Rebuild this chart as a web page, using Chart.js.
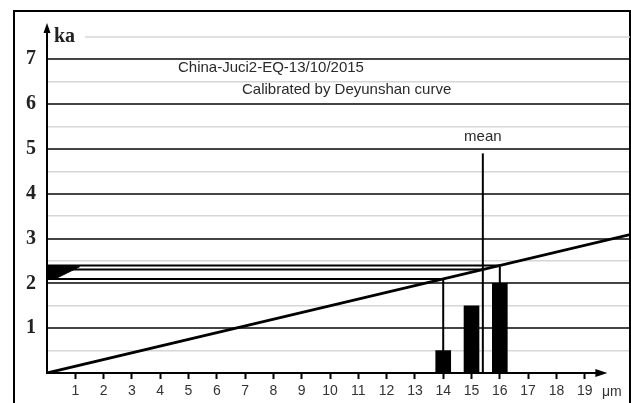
<!DOCTYPE html>
<html>
<head>
<meta charset="utf-8">
<script src="https://cdn.jsdelivr.net/npm/chart.js@4.4.1/dist/chart.umd.min.js"></script>
<style>
  html, body { margin: 0; padding: 0; background: #fff; }
  #wrap { width: 631px; height: 403px; }
</style>
</head>
<body>
<div id="wrap"><canvas id="chart" width="631" height="403"></canvas></div>
<script>
// grain size histogram (μm) and the bar heights on the ka axis
const grainSizes = [14, 15, 16];
const grainHeights = [0.5, 1.5, 2];

// Deyunshan calibration line, size (μm) vs age (ka)
const calibSizes = [0, 20.6];
const calibAges = [0, 3.09];

// read-off ages: smallest grain, mean, largest grain
const readSizes = [14, 15.4, 16];
const readAges = [2.1, 2.31, 2.4];

// mean marker
const meanSize = 15.4;
const meanTop = 4.9;

// black wedge on the age axis
const wedgeSizes = [0, 1.15, 0.35, 0, 0];
const wedgeAges = [2.4, 2.37, 2.12, 2.12, 2.4];

const xTickLabels = [1, 2, 3, 4, 5, 6, 7, 8, 9, 10, 11, 12, 13, 14, 15, 16, 17, 18, 19];
const yTickLabels = [1, 2, 3, 4, 5, 6, 7];
const titleLines = ['China-Juci2-EQ-13/10/2015', 'Calibrated by Deyunshan curve'];

const SANS = '"Liberation Sans", Arial, sans-serif';
const SERIF = '"Liberation Serif", "Times New Roman", serif';

const pts = (xs, ys) => xs.map((x, i) => ({ x: x, y: ys[i] }));

const lineSet = (data, width) => ({
  type: 'scatter',
  data: data,
  showLine: true,
  borderColor: '#000',
  borderWidth: width,
  pointRadius: 0,
  fill: false
});

const datasets = [
  {
    type: 'bar',
    data: pts(grainSizes, grainHeights),
    backgroundColor: '#000',
    barThickness: 15
  },
  lineSet(pts(calibSizes, calibAges), 2.8),
  lineSet([{ x: meanSize, y: 0 }, { x: meanSize, y: meanTop }], 2)
];

readSizes.forEach((s, i) => {
  const path = [{ x: 0, y: readAges[i] }, { x: s, y: readAges[i] }];
  if (s !== meanSize) path.push({ x: s, y: 0 });
  datasets.push(lineSet(path, 2));
});

datasets.push({
  type: 'scatter',
  data: pts(wedgeSizes, wedgeAges),
  showLine: true,
  borderColor: '#000',
  borderWidth: 1,
  backgroundColor: '#000',
  pointRadius: 0,
  fill: 'shape'
});

const decorations = {
  id: 'decorations',
  afterDatasetsDraw(chart) {
    const { ctx, chartArea, scales } = chart;
    const xs = scales.x, ys = scales.y;
    const x0 = xs.getPixelForValue(0);
    const y0 = ys.getPixelForValue(0);
    ctx.save();

    // outer frame
    ctx.strokeStyle = '#000';
    ctx.lineWidth = 2;
    ctx.strokeRect(14, 11, 616, 420);

    // top light grid line, starting after the unit label
    ctx.strokeStyle = '#d6d6d6';
    ctx.lineWidth = 1.5;
    const y75 = ys.getPixelForValue(7.5);
    ctx.beginPath();
    ctx.moveTo(85, y75);
    ctx.lineTo(chartArea.right, y75);
    ctx.stroke();

    // axes with arrows
    ctx.strokeStyle = '#000';
    ctx.fillStyle = '#000';
    ctx.lineWidth = 2;
    const yTop = chartArea.top;
    ctx.beginPath();
    ctx.moveTo(x0, y0 + 1);
    ctx.lineTo(x0, yTop + 4);
    ctx.stroke();
    ctx.beginPath();
    ctx.moveTo(x0, yTop);
    ctx.lineTo(x0 - 3.5, yTop + 10);
    ctx.lineTo(x0 + 3.5, yTop + 10);
    ctx.closePath();
    ctx.fill();

    const xEnd = xs.getPixelForValue(19.8);
    ctx.beginPath();
    ctx.moveTo(x0, y0);
    ctx.lineTo(xEnd - 6, y0);
    ctx.stroke();
    ctx.beginPath();
    ctx.moveTo(xEnd, y0);
    ctx.lineTo(xEnd - 12, y0 - 4);
    ctx.lineTo(xEnd - 12, y0 + 4);
    ctx.closePath();
    ctx.fill();

    // unit labels
    ctx.fillStyle = '#222';
    ctx.font = 'bold 20px ' + SERIF;
    ctx.textAlign = 'left';
    ctx.textBaseline = 'alphabetic';
    ctx.fillText('ka', 54, 42);

    ctx.font = '14px ' + SANS;
    ctx.fillStyle = '#333';
    ctx.textBaseline = 'middle';
    ctx.fillText('μm', 602, 392);

    // titles
    ctx.font = '15px ' + SANS;
    ctx.fillStyle = '#2a2a2a';
    ctx.fillText(titleLines[0], 178, 68);
    ctx.fillText(titleLines[1], 242, 90);

    // mean label
    ctx.textAlign = 'center';
    ctx.fillText('mean', xs.getPixelForValue(meanSize), 137);

    ctx.restore();
  }
};

new Chart(document.getElementById('chart'), {
  type: 'scatter',
  data: { datasets: datasets },
  options: {
    responsive: false,
    animation: false,
    layout: { padding: { top: 19, right: 1, left: 0, bottom: 0 } },
    plugins: { legend: { display: false }, tooltip: { enabled: false } },
    scales: {
      x: {
        type: 'linear',
        min: 0,
        max: 20.6,
        offset: false,
        afterFit: (scale) => { scale.height = 30; },
        border: { display: false },
        grid: {
          offset: false,
          drawOnChartArea: false,
          drawTicks: true,
          tickLength: 6,
          tickColor: '#000',
          tickWidth: 2
        },
        ticks: {
          stepSize: 1,
          autoSkip: false,
          maxRotation: 0,
          padding: 4,
          color: '#333',
          font: { family: SANS, size: 14 },
          callback: (v) => xTickLabels.includes(v) ? String(v) : null
        }
      },
      y: {
        type: 'linear',
        min: 0,
        max: 7.81,
        afterFit: (scale) => { scale.width = 47; },
        border: { display: false },
        grid: {
          drawTicks: false,
          lineWidth: (c) => Number.isInteger(c.tick.value) ? 2 : 1.5,
          color: (c) => {
            const v = c.tick.value;
            if (v >= 7.5) return 'rgba(0,0,0,0)';
            return Number.isInteger(v) ? '#444' : '#d6d6d6';
          }
        },
        ticks: {
          stepSize: 0.5,
          autoSkip: false,
          padding: 11,
          color: '#222',
          font: { family: SERIF, size: 20, weight: 'bold' },
          callback: (v) => {
            if (v > 7.5 || v === 0) return null;
            return yTickLabels.includes(v) ? String(v) : '';
          }
        }
      }
    }
  },
  plugins: [decorations]
});
</script>
</body>
</html>
